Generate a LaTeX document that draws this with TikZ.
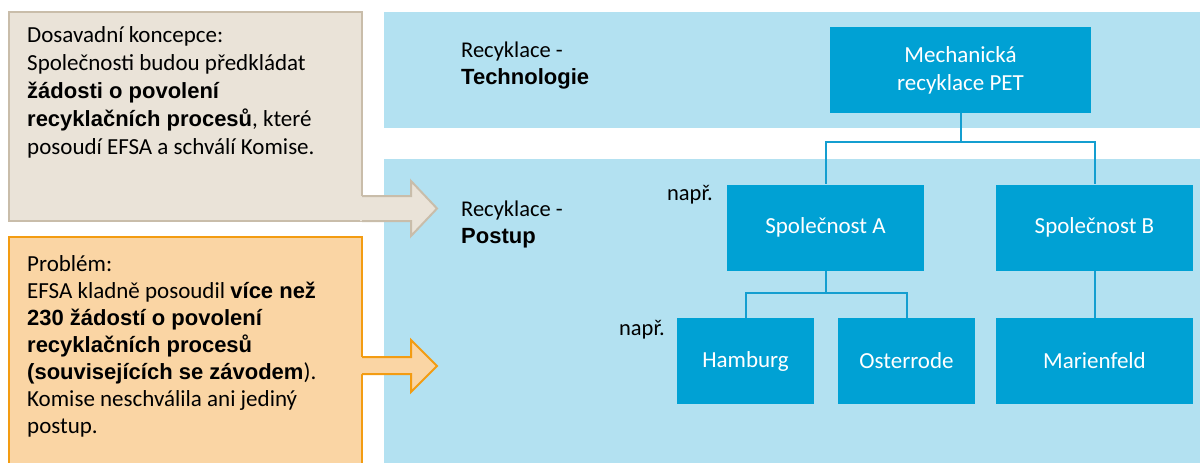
\documentclass[tikz,border=0pt]{standalone}
\usepackage{fontspec}
\setmainfont{Carlito}
\newfontfamily\arialfont{Liberation Sans}
\definecolor{bandblue}{RGB}{179,225,241}
\definecolor{boxblue}{RGB}{0,161,212}
\definecolor{lineblue}{RGB}{20,158,208}
\definecolor{beigefill}{RGB}{234,227,216}
\definecolor{beigeline}{RGB}{201,189,170}
\definecolor{orangefill}{RGB}{250,213,164}
\definecolor{orangeline}{RGB}{243,156,18}
\newcommand\hl[1]{{\arialfont\bfseries\fontsize{22}{28}\selectfont #1}}
\tikzset{
  box/.style={fill=boxblue,text=white,inner sep=0pt,minimum height=86pt,align=center,font=\fontsize{23}{28}\selectfont},
  conn/.style={draw=lineblue,line width=2pt},
  note/.style={inner sep=0pt,anchor=north west,align=left},
  lbl/.style={inner sep=0pt,anchor=north west,align=left,font=\fontsize{22.5}{27}\selectfont},
}
\begin{document}
\begin{tikzpicture}[x=1pt,y=-1pt]
                \useasboundingbox (0,0) rectangle (1200,463);

                % bands
                \fill[color=bandblue] (384,12) rectangle (1200,128);
                \fill[color=bandblue] (384,159) rectangle (1200,463);

                \node[lbl] (techlbl) at (461,42) {Recyklace -\\\hl{Technologie}};
                \node[lbl] (postlbl) at (461,201) {Recyklace -\\\hl{Postup}};

                % tree
                \node[box,minimum width=261pt] (mech) at (960.5,70) {Mechanická\\recyklace PET};
                \node[box,minimum width=197pt] (spolA) at (825.5,227.5) {Společnost A};
                \node[box,minimum width=197pt] (spolB) at (1094.5,227.5) {Společnost B};
                \node[box,minimum width=137pt] (hamburg) at (745.5,361) {Hamburg};
                \node[box,minimum width=137pt] (osterrode) at (906.5,361) {Osterrode};
                \node[box,minimum width=197pt] (marienfeld) at (1094.5,361) {Marienfeld};

                \node[anchor=east,inner sep=0pt,font=\fontsize{22.5}{27}\selectfont] (eg1) at (713,195) {např.};
                \node[anchor=east,inner sep=0pt,font=\fontsize{22.5}{27}\selectfont] (eg2) at (665,330) {např.};

                \coordinate (j1) at (960.5,142);
                \coordinate (j2) at (825.5,293);
                \draw[conn] (mech.south) -- (j1) -| (spolA.north);
                \draw[conn] (j1) -| (spolB.north);
                \draw[conn] (spolA.south) -- (j2) -| (hamburg.north);
                \draw[conn] (j2) -| (osterrode.north);
                \draw[conn] (spolB.south) -- (marienfeld.north);

                % beige note + arrow
                \filldraw[fill=beigefill,draw=beigeline,line width=2pt] (9,12) rectangle (362,221);
                \fill[color=beigefill] (360,196) -- (411,196) -- (411,181) -- (437,208.5) -- (411,236) -- (411,221) -- (360,221) -- cycle;
                \draw[color=beigeline,line width=2pt,line join=miter] (362,196) -- (411,196) -- (411,181) -- (437,208.5) -- (411,236) -- (411,221) -- (362,221);
                \node[note,font=\fontsize{23}{28}\selectfont] (old) at (27,26) {Dosavadní koncepce:\\Společnosti budou předkládat\\\hl{žádosti o povolení}\\\hl{recyklačních procesů}, které\\posoudí EFSA a schválí Komise.};

                % orange note + arrow
                \filldraw[fill=orangefill,draw=orangeline,line width=2pt] (9,237) rectangle (362,475);
                \fill[color=orangefill] (360,357) -- (411,357) -- (411,340) -- (437,366) -- (411,392) -- (411,374) -- (360,374) -- cycle;
                \draw[color=orangeline,line width=2pt,line join=miter] (362,357) -- (411,357) -- (411,340) -- (437,366) -- (411,392) -- (411,374) -- (362,374);
                \node[note,font=\fontsize{23}{27}\selectfont] (problem) at (27,255) {Problém:\\EFSA kladně posoudil \hl{více než}\\\hl{230 žádostí o povolení}\\\hl{recyklačních procesů}\\\hl{(souvisejících se závodem}).\\Komise neschválila ani jediný\\postup.};

            \end{tikzpicture}
\end{document}
